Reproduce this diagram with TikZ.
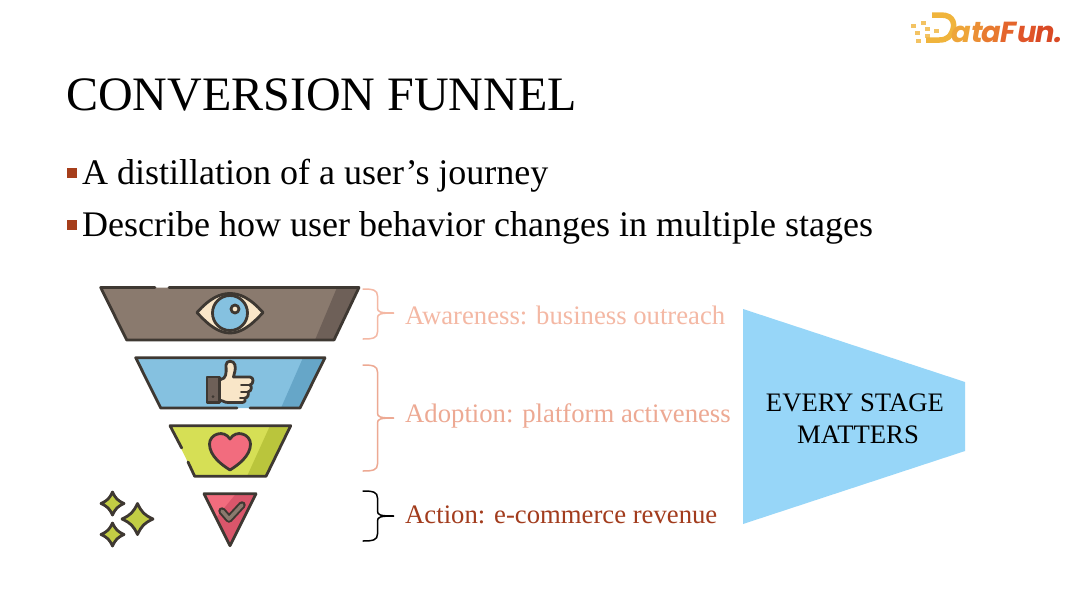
\documentclass[tikz,border=0pt]{standalone}
\usepackage{fontspec}
\setmainfont{Liberation Serif}
\newfontfamily\logofont{Poppins}
\usetikzlibrary{shapes.geometric}
\definecolor{outl}{HTML}{3E3832}
\definecolor{taupe}{HTML}{8A7A6E}
\definecolor{taupeD}{HTML}{6E6058}
\definecolor{skyb}{HTML}{85C1E0}
\definecolor{skybD}{HTML}{66A6C8}
\definecolor{lime}{HTML}{D6DF55}
\definecolor{limeD}{HTML}{BAC53C}
\definecolor{rosey}{HTML}{F26C7E}
\definecolor{rosD}{HTML}{D9566B}
\definecolor{creamy}{HTML}{F9E6C8}
\definecolor{bulletc}{HTML}{A63E1B}
\definecolor{salm}{HTML}{F4B8A4}
\definecolor{salmD}{HTML}{EDA993}
\definecolor{actc}{HTML}{A23C1D}
\definecolor{stagec}{HTML}{97D6F8}
\tikzset{
  ico/.style={draw=outl,line width=2.8pt,line join=round,line cap=round},
  lab/.style={anchor=west,inner sep=0pt,font=\fontsize{26.7}{30}\selectfont},
  bul/.style={anchor=west,inner sep=0pt,font=\fontsize{36}{40}\selectfont},
  sq/.style={fill=bulletc,draw=none},
  lg/.style={anchor=base west,inner sep=0pt,font=\logofont\bfseries\itshape\fontsize{29}{29}\selectfont},
  bracket/.style={line width=1.5pt,line cap=round}
}
\newcommand{\bracepath}[4]{% x, ytop, ytip, ybottom
  (#1,#2) .. controls (#1+10,#2) and (#1+14.5,#2+1) .. (#1+14.5,#2+7)
  -- (#1+14.5,#3-5) .. controls (#1+14.5,#3-1) and (#1+17,#3) .. (#1+31,#3)
  .. controls (#1+17,#3) and (#1+14.5,#3+1) .. (#1+14.5,#3+5)
  -- (#1+14.5,#4-7) .. controls (#1+14.5,#4-1) and (#1+10,#4) .. (#1,#4)}
\newcommand{\sparkle}[3]{% cx, cy, r
  (#1,#2-#3) .. controls (#1+.28*#3,#2-.42*#3) and (#1+.42*#3,#2-.28*#3) .. (#1+#3,#2)
  .. controls (#1+.42*#3,#2+.28*#3) and (#1+.28*#3,#2+.42*#3) .. (#1,#2+#3)
  .. controls (#1-.28*#3,#2+.42*#3) and (#1-.42*#3,#2+.28*#3) .. (#1-#3,#2)
  .. controls (#1-.42*#3,#2-.28*#3) and (#1-.28*#3,#2-.42*#3) .. cycle}
\begin{document}
\begin{tikzpicture}[x=1pt,y=-1pt]
\useasboundingbox[fill=white] (0,0) rectangle (1080,608);
% title
\node[anchor=west,inner sep=0pt,font=\fontsize{48}{52}\selectfont] (title) at (66,94.5) {CONVERSION FUNNEL};
% bullets
\fill[sq] (67,168) rectangle (77,178);
\node[bul] (b1) at (82,176) {A distillation of a user’s journey};
\fill[sq] (67,220) rectangle (77,230);
\node[bul] (b2) at (82,228) {Describe how user behavior changes in multiple stages};
% funnel layer 1
\fill[taupe] (100.7,287.5) -- (359,287.5) -- (334,340) -- (126.7,340) -- cycle;
\fill[taupeD] (337,287.5) -- (359,287.5) -- (334,340) -- (315,340) -- cycle;
\draw[ico] (155,287.5) -- (100.7,287.5) -- (126.7,340) -- (334,340) -- (359,287.5) -- (169,287.5);
\draw[ico,fill=creamy] (197,312.5) .. controls (210,298) and (220,293.5) .. (230,293.5)
  .. controls (240,293.5) and (250,298) .. (263,312.5)
  .. controls (250,327) and (240,333) .. (230,333)
  .. controls (220,333) and (210,327) .. (197,312.5) -- cycle;
\draw[ico,fill=skyb] (230,313) circle (17.5);
\draw[ico,fill=creamy] (235,309) circle (4);
% funnel layer 2
\fill[skyb] (135.7,357.7) -- (325,357.7) -- (300,408) -- (160.7,408) -- cycle;
\fill[skybD] (303,357.7) -- (325,357.7) -- (300,408) -- (281,408) -- cycle;
\draw[ico] (237,408) -- (160.7,408) -- (135.7,357.7) -- (325,357.7) -- (300,408) -- (250,408);
% thumb
\draw[ico,fill=taupeD] (207,377) rectangle (219.5,402.5);
\fill[outl] (213,396.5) circle (1.5);
\draw[ico,fill=creamy] (219.5,380) -- (224,378) .. controls (227,375) and (226,368) .. (226,365)
  .. controls (226,360) and (234,360) .. (235,365)
  .. controls (236,370) and (234,374) .. (233.5,377)
  -- (250,377) .. controls (254,377) and (254,384) .. (250,385)
  .. controls (252,386) and (252,391) .. (248,392)
  .. controls (249,394) and (248,398) .. (245,398)
  .. controls (246,400) and (245,402.5) .. (242,402.5)
  -- (228,402.5) .. controls (224,402.5) and (222,400) .. (219.5,400) -- cycle;
\draw[ico,line width=1.8pt] (250,385) -- (241,385) (248,392) -- (241,392) (245,398) -- (240,398);
% funnel layer 3
\fill[lime] (170,425.7) -- (290.7,425.7) -- (266,476.3) -- (194.7,476.3) -- cycle;
\fill[limeD] (270,425.7) -- (290.7,425.7) -- (266,476.3) -- (247,476.3) -- cycle;
\draw[ico] (181.7,448) -- (170,425.7) -- (290.7,425.7) -- (266,476.3) -- (194.7,476.3) -- (188,462);
% heart
\draw[ico,fill=rosey] (230,470) .. controls (222,465) and (209.5,456) .. (209.5,444)
  .. controls (209.5,434) and (224,429) .. (230,439)
  .. controls (236,429) and (250.5,434) .. (250.5,444)
  .. controls (250.5,456) and (238,465) .. (230,470) -- cycle;
% funnel layer 4
\fill[rosey] (204,493.7) -- (256,493.7) -- (230,545.7) -- cycle;
\fill[rosD] (236,493.7) -- (256,493.7) -- (230,545.7) -- (216,518) -- cycle;
\draw[ico] (204,493.7) -- (256,493.7) -- (230,545.7) -- cycle;
\draw[line width=7.5pt,draw=outl,line cap=round,line join=round] (222,511) -- (229,519) -- (242,505);
\draw[line width=3.5pt,draw=taupe,line cap=round,line join=round] (222,511) -- (229,519) -- (242,505);
% sparkles
\draw[ico,fill=limeD!70!lime] \sparkle{112.5}{503.5}{11.5};
\draw[ico,fill=limeD!70!lime] \sparkle{137.5}{519}{15.5};
\draw[ico,fill=limeD!70!lime] \sparkle{112.5}{534.5}{11.5};
% braces
\draw[bracket,draw=salm] \bracepath{363}{289}{313}{339};
\draw[bracket,draw=salmD] \bracepath{363}{365}{418}{471};
\draw[bracket,draw=black] \bracepath{363}{491}{516}{541};
% labels
\node[lab,text=salm] (aw) at (405,315) {Awareness: business outreach};
\node[lab,text=salmD] (ad) at (405,415.5) {Adoption: platform activeness};
\node[lab,text=actc] (ac) at (405,515) {Action: e-commerce revenue};
% stage shape
\fill[stagec] (743,309) -- (965,382) -- (965,451) -- (743,524) -- cycle;
\node[align=center,inner sep=0pt,font=\fontsize{26.7}{32}\selectfont] (st) at (855,419) {EVERY STAGE\\\hspace*{6pt}MATTERS};
% logo
\definecolor{lg1}{HTML}{F0B43C}\definecolor{lg2}{HTML}{EEA53A}\definecolor{lg3}{HTML}{EB8F35}
\definecolor{lg4}{HTML}{E87A30}\definecolor{lg5}{HTML}{E4652C}\definecolor{lg6}{HTML}{E05529}\definecolor{lg7}{HTML}{D94A25}
\foreach \xx/\yy in {911/24,921/21,925/27,915/31,925/34,916/39,934/29}{\fill[lg1!80] (\xx,\yy) rectangle +(4.5,4);}
\draw[lg1,line width=5.5pt] (932,15) -- (941,15) .. controls (955,15) and (955,26) .. (952,32) .. controls (948,41) and (942,40) .. (933,40) -- (926,40);
\node[lg,text=lg2] (la) at (951,42) {a};
\node[lg,text=lg3] (lt) at (971,42) {t};
\node[lg,text=lg4] (lb) at (981,42) {a};
\node[lg,text=lg5] (lf) at (1000.5,42) {F};
\node[lg,text=lg6] (lu) at (1017,42) {u};
\node[lg,text=lg7] (ln) at (1035,42) {n.};
\end{tikzpicture}
\end{document}
